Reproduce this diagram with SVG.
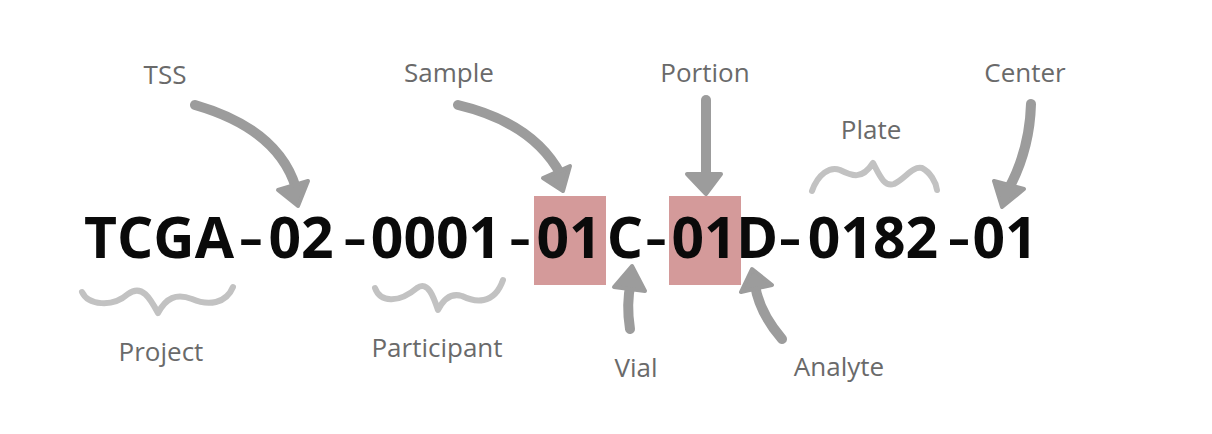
<svg xmlns="http://www.w3.org/2000/svg" width="1212" height="434" viewBox="0 0 1212 434">
<style>
.bg{fill:#ffffff}
.box{fill:#d49a9a}
.code{font-family:"Open Sans","DejaVu Sans",sans-serif;font-weight:bold;font-size:57px;fill:#0a0a0a;text-anchor:middle}
.dash{font-family:"Open Sans","DejaVu Sans",sans-serif;font-weight:600;font-size:57px;fill:#0a0a0a;text-anchor:middle}
.lbl{font-family:"Open Sans","DejaVu Sans",sans-serif;font-size:26px;fill:#6a6a6a;text-anchor:middle}
.shaft{fill:none;stroke:#9c9c9c;stroke-width:10;stroke-linecap:round}
.head{fill:#9c9c9c;stroke:#9c9c9c;stroke-width:4;stroke-linejoin:round}
.brace{fill:none;stroke:#c2c2c2;stroke-width:6;stroke-linecap:round;stroke-linejoin:round}
</style>
<rect class="bg" x="0" y="0" width="1212" height="434"/>
<g id="highlights">
<rect class="box" x="534" y="196" width="72" height="89"/>
<rect class="box" x="669" y="196" width="72" height="89"/>
</g>
<g id="barcode">
<text class="code" y="258"><tspan x="159">TCGA</tspan><tspan x="301">02</tspan><tspan x="436">0001</tspan><tspan x="569">01</tspan><tspan x="625">C</tspan><tspan x="704">01</tspan><tspan x="757">D</tspan><tspan x="873">0182</tspan><tspan x="1005">01</tspan></text>
<text class="dash" transform="translate(251,258) scale(1.35,1)">-</text>
<text class="dash" transform="translate(355,258) scale(1.3,1)">-</text>
<text class="dash" transform="translate(520,258) scale(1.2,1)">-</text>
<text class="dash" transform="translate(656,258) scale(1.2,1)">-</text>
<text class="dash" transform="translate(790,258) scale(1.25,1)">-</text>
<text class="dash" transform="translate(959,258) scale(1.25,1)">-</text>
</g>
<g id="connectors">
<path class="shaft" d="M195,105 C240,118 282,142 296,188"/>
<polygon class="head" points="298,206 278,190 308,181"/>
<path class="shaft" d="M458,105 C500,115 540,135 561,175"/>
<polygon class="head" points="563,191 543,178 570,166"/>
<path class="shaft" d="M706,100 L706,176"/>
<polygon class="head" points="706,194 687,174 721,174"/>
<path class="shaft" d="M1031,104 C1030,140 1020,168 1008,190"/>
<polygon class="head" points="1002,207 994,181 1024,189"/>
<path class="shaft" d="M630,329 C627,310 628,295 631,282"/>
<polygon class="head" points="632,266 614,287 645,291"/>
<path class="shaft" d="M782,339 C770,325 758,305 755,285"/>
<polygon class="head" points="752,269 741,292 772,285"/>
<path class="brace" d="M82,292 C88,305 112,308 128,294 C142,284 150,298 158,313 C166,298 176,293 192,299 C208,306 226,304 233,287"/>
<path class="brace" d="M375,288 C380,302 398,304 417,288 C428,280 434,298 438,310 C444,298 452,293 462,296 C474,302 494,306 503,280"/>
<path class="brace" d="M812,191 C818,174 830,166 840,170 C852,176 862,180 873,163 C880,176 884,187 894,184 C906,178 912,166 922,168 C930,172 936,182 937,190"/>
</g>
<g id="labels">
<text id="tss" class="lbl" x="165" y="84">TSS</text>
<text id="sample" class="lbl" x="449" y="82">Sample</text>
<text id="portion" class="lbl" x="705" y="82">Portion</text>
<text id="center" class="lbl" x="1025" y="82">Center</text>
<text id="plate" class="lbl" x="871" y="139">Plate</text>
<text id="project" class="lbl" x="161" y="361">Project</text>
<text id="participant" class="lbl" x="437" y="357">Participant</text>
<text id="vial" class="lbl" x="636" y="377">Vial</text>
<text id="analyte" class="lbl" x="839" y="376">Analyte</text>
</g>
</svg>
